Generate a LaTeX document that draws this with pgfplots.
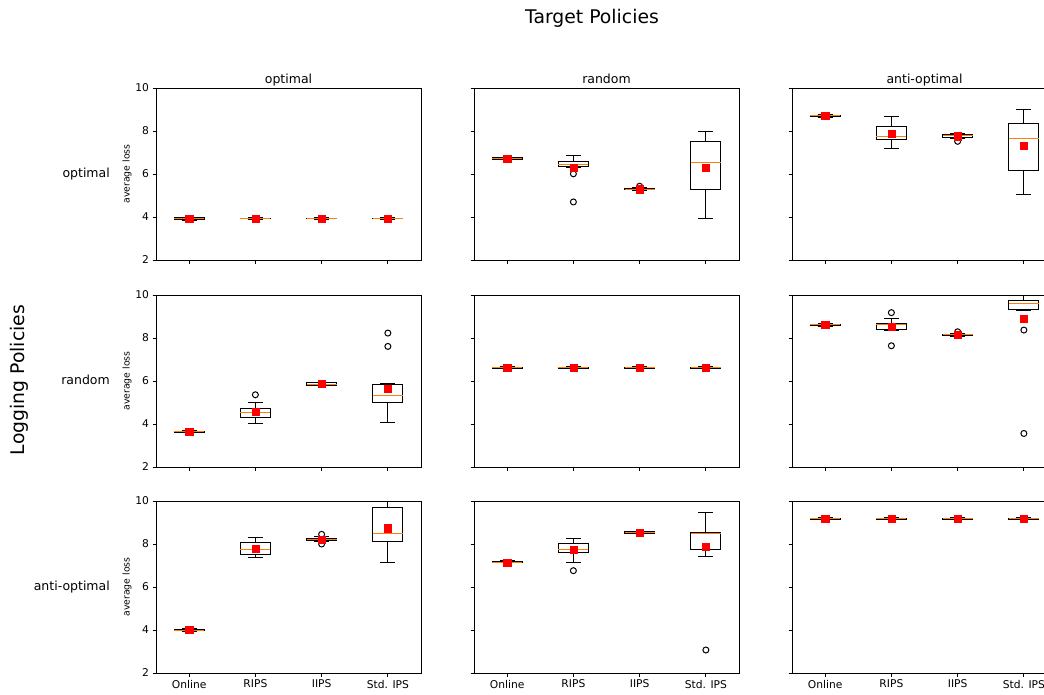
\documentclass[border=0pt]{standalone}
\usepackage{fontspec}
\setmainfont{DejaVu Sans}
\usepackage{pgfplots}
\pgfplotsset{compat=1.18}
\usepgfplotslibrary{statistics}
\definecolor{mporange}{HTML}{FF7F0E}
\pgfplotsset{
  panel/.style={
    scale only axis, width=265pt, height=172pt, anchor=north west,
    xmin=0.5, xmax=4.5, ymin=2, ymax=10,
    xtick={1,2,3,4}, ytick={2,4,6,8,10},
    tick align=outside, xtick pos=bottom, ytick pos=left,
    major tick length=3.5pt,
    tick style={black, line width=0.8pt},
    axis line style={line width=0.8pt},
    /pgf/number format/assume math mode=true,
    tick label style={font=\fontsize{10.7}{12}\selectfont},
    xticklabels={}, yticklabels={},
  },
  ylab/.style={yticklabels={2,4,6,8,10}},
  xlab/.style={xticklabels={Online,RIPS,IIPS,Std. IPS}},
}
\newcommand{\bx}[7]{%
  \addplot+[black, solid, line width=1pt, mark=o, mark size=3pt, mark options={black, line width=1pt, fill=none},
    boxplot prepared={draw direction=y, draw position=#1, lower whisker=#2, lower quartile=#3, median=#4,
      upper quartile=#5, upper whisker=#6, box extend=0.45, whisker extend=0.225,
      every median/.style={draw=mporange, line width=1pt}}]
    coordinates {#7};}
\newcommand{\means}[1]{%
  \addplot[only marks, mark=square*, mark size=3.6pt, mark options={fill=red, draw=red, line width=0.3pt}] coordinates {#1};}
\begin{document}
\begin{tikzpicture}
% Row 1: logging optimal
\begin{axis}[panel, ylab, at={(156pt,-88pt)}]
\bx{1}{3.86}{3.90}{3.93}{3.96}{4.00}{}
\bx{2}{3.88}{3.91}{3.93}{3.95}{3.98}{}
\bx{3}{3.88}{3.91}{3.93}{3.95}{3.98}{}
\bx{4}{3.88}{3.91}{3.93}{3.95}{3.98}{}
\means{(1,3.93) (2,3.93) (3,3.93) (4,3.93)}
\end{axis}
\begin{axis}[panel, at={(474pt,-88pt)}]
\bx{1}{6.66}{6.69}{6.72}{6.75}{6.77}{}
\bx{2}{6.30}{6.37}{6.45}{6.59}{6.84}{(0,6.01) (0,4.70)}
\bx{3}{5.24}{5.26}{5.29}{5.32}{5.36}{(0,5.43)}
\bx{4}{3.94}{5.26}{6.54}{7.52}{7.97}{}
\means{(1,6.72) (2,6.29) (3,5.30) (4,6.29)}
\end{axis}
\begin{axis}[panel, at={(792pt,-88pt)}]
\bx{1}{8.64}{8.67}{8.70}{8.73}{8.76}{}
\bx{2}{7.18}{7.60}{7.75}{8.20}{8.67}{}
\bx{3}{7.66}{7.72}{7.78}{7.84}{7.89}{(0,7.52)}
\bx{4}{5.04}{6.17}{7.64}{8.37}{8.98}{}
\means{(1,8.70) (2,7.89) (3,7.76) (4,7.32)}
\end{axis}
% Row 2: logging random
\begin{axis}[panel, ylab, at={(156pt,-295pt)}]
\bx{1}{3.59}{3.61}{3.64}{3.67}{3.69}{}
\bx{2}{4.03}{4.28}{4.53}{4.70}{4.99}{(0,5.36)}
\bx{3}{5.78}{5.81}{5.86}{5.91}{5.94}{}
\bx{4}{4.05}{4.98}{5.32}{5.84}{5.89}{(0,7.61) (0,8.23)}
\means{(1,3.64) (2,4.56) (3,5.86) (4,5.63)}
\end{axis}
\begin{axis}[panel, at={(474pt,-295pt)}]
\bx{1}{6.57}{6.60}{6.62}{6.65}{6.67}{}
\bx{2}{6.57}{6.60}{6.62}{6.65}{6.67}{}
\bx{3}{6.57}{6.60}{6.62}{6.65}{6.67}{}
\bx{4}{6.57}{6.60}{6.62}{6.65}{6.67}{}
\means{(1,6.62) (2,6.62) (3,6.62) (4,6.62)}
\end{axis}
\begin{axis}[panel, at={(792pt,-295pt)}]
\bx{1}{8.55}{8.58}{8.61}{8.64}{8.67}{}
\bx{2}{8.33}{8.39}{8.61}{8.68}{8.89}{(0,9.18) (0,7.64)}
\bx{3}{8.08}{8.11}{8.14}{8.17}{8.22}{(0,8.29)}
\bx{4}{9.30}{9.33}{9.60}{9.73}{10.0}{(0,8.37) (0,3.56)}
\means{(1,8.61) (2,8.54) (3,8.14) (4,8.91)}
\end{axis}
% Row 3: logging anti-optimal
\begin{axis}[panel, ylab, xlab, at={(156pt,-501pt)}]
\bx{1}{3.95}{3.98}{4.00}{4.03}{4.06}{}
\bx{2}{7.37}{7.53}{7.73}{8.07}{8.30}{}
\bx{3}{8.12}{8.16}{8.20}{8.25}{8.33}{(0,8.45) (0,8.00)}
\bx{4}{7.15}{8.12}{8.51}{9.69}{10.0}{}
\means{(1,4.00) (2,7.79) (3,8.22) (4,8.74)}
\end{axis}
\begin{axis}[panel, xlab, at={(474pt,-501pt)}]
\bx{1}{7.12}{7.14}{7.16}{7.19}{7.21}{}
\bx{2}{7.14}{7.62}{7.76}{8.04}{8.24}{(0,6.76)}
\bx{3}{8.48}{8.50}{8.53}{8.56}{8.59}{}
\bx{4}{7.42}{7.74}{8.50}{8.53}{9.47}{(0,3.07)}
\means{(1,7.15) (2,7.73) (3,8.53) (4,7.87)}
\end{axis}
\begin{axis}[panel, xlab, at={(792pt,-501pt)}]
\bx{1}{9.13}{9.15}{9.17}{9.19}{9.21}{}
\bx{2}{9.13}{9.15}{9.17}{9.19}{9.21}{}
\bx{3}{9.13}{9.15}{9.17}{9.19}{9.21}{}
\bx{4}{9.13}{9.15}{9.17}{9.19}{9.21}{}
\means{(1,9.17) (2,9.17) (3,9.17) (4,9.17)}
\end{axis}
% Texts
\begin{scope}[every node/.style={inner sep=0pt}]
\node[font=\fontsize{18.8}{22}\selectfont, anchor=base] at (592pt,-23pt) {Target Policies};
\node[font=\fontsize{12.5}{15}\selectfont, anchor=base] at (288.5pt,-83pt) {optimal};
\node[font=\fontsize{12.5}{15}\selectfont, anchor=base] at (606.5pt,-83pt) {random};
\node[font=\fontsize{12.5}{15}\selectfont, anchor=base] at (924.5pt,-83pt) {anti-optimal};
\node[font=\fontsize{12.5}{15}\selectfont, anchor=base east] at (110pt,-177pt) {optimal};
\node[font=\fontsize{12.5}{15}\selectfont, anchor=base east] at (110pt,-384pt) {random};
\node[font=\fontsize{12.5}{15}\selectfont, anchor=base east] at (110pt,-590pt) {anti-optimal};
\node[font=\fontsize{9.3}{11}\selectfont, rotate=90] at (127pt,-174pt) {average loss};
\node[font=\fontsize{9.3}{11}\selectfont, rotate=90] at (127pt,-381pt) {average loss};
\node[font=\fontsize{9.3}{11}\selectfont, rotate=90] at (127pt,-587pt) {average loss};
\node[font=\fontsize{18.8}{22}\selectfont, rotate=90] at (19pt,-380pt) {Logging Policies};
\end{scope}
\pgfresetboundingbox
\path[use as bounding box] (0pt,0pt) rectangle (1044pt,-694pt);
\end{tikzpicture}
\end{document}
